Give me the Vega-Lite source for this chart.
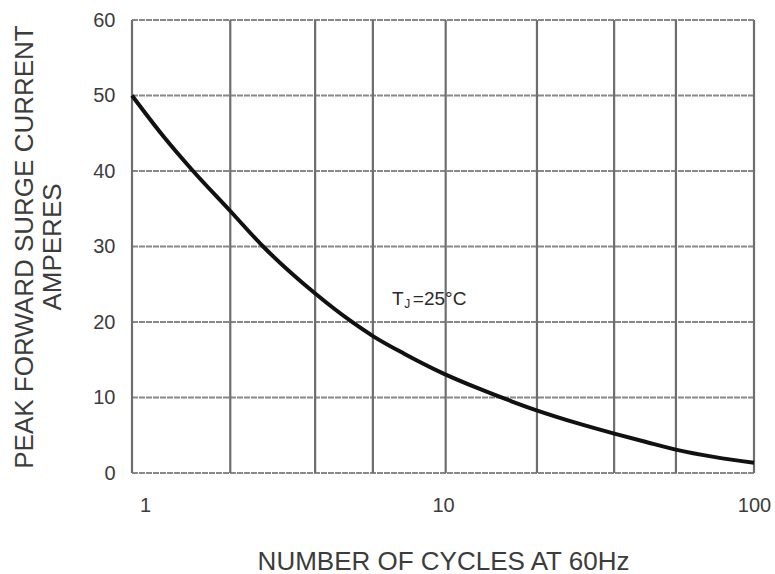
{
  "$schema": "https://vega.github.io/schema/vega-lite/v6.json",
  "description": "Peak forward surge current vs number of cycles at 60Hz",
  "autosize": {"type": "none"},
  "width": 622,
  "height": 453,
  "padding": {"left": 132, "top": 20, "right": 21, "bottom": 101},
  "background": "white",
  "config": {
    "view": {"stroke": null},
    "font": "Liberation Sans",
    "axis": {
      "domain": false,
      "ticks": false,
      "grid": false,
      "labelFontSize": 20,
      "labelColor": "#3c3c3c",
      "titleFontSize": 26,
      "titleFontWeight": "normal",
      "titleColor": "#3c3c3c"
    }
  },
  "datasets": {
    "curve": [
      {"cycles": 1, "current": 50.0},
      {"cycles": 1.25, "current": 44.8},
      {"cycles": 1.556, "current": 40.2},
      {"cycles": 2.07, "current": 34.7},
      {"cycles": 2.64, "current": 30.0},
      {"cycles": 3.9, "current": 23.7},
      {"cycles": 5.02, "current": 20.2},
      {"cycles": 5.97, "current": 18.1},
      {"cycles": 7.5, "current": 15.8},
      {"cycles": 10, "current": 13.2},
      {"cycles": 13, "current": 11.2},
      {"cycles": 16.6, "current": 9.5},
      {"cycles": 20, "current": 8.3},
      {"cycles": 27, "current": 6.6},
      {"cycles": 35.3, "current": 5.25},
      {"cycles": 45, "current": 4.1},
      {"cycles": 56, "current": 3.1},
      {"cycles": 75, "current": 2.1},
      {"cycles": 100, "current": 1.35}
    ],
    "vgrid": [
      {"cycles": 1}, {"cycles": 2.07}, {"cycles": 3.88}, {"cycles": 5.95},
      {"cycles": 10.2}, {"cycles": 20.05}, {"cycles": 35.5}, {"cycles": 56.1},
      {"cycles": 100}
    ],
    "hgrid": [
      {"current": 0}, {"current": 10}, {"current": 20}, {"current": 30},
      {"current": 40}, {"current": 50}, {"current": 60}
    ],
    "note": [
      {"cycles": 6.86, "current": 22.25, "text": "T"},
      {"cycles": 8.0, "current": 22.25, "text": "=25°C"}
    ],
    "noteSub": [
      {"cycles": 7.5, "current": 21.8, "text": "J"}
    ]
  },
  "layer": [
    {
      "data": {"name": "hgrid"},
      "mark": {"type": "rule", "color": "#888888", "strokeWidth": 2, "strokeDash": [6, 1]},
      "encoding": {
        "y": {"field": "current", "type": "quantitative", "scale": {"domain": [0, 60], "nice": false, "zero": false}}
      }
    },
    {
      "data": {"name": "vgrid"},
      "mark": {"type": "rule", "color": "#6e6e6e", "strokeWidth": 2.2},
      "encoding": {
        "x": {"field": "cycles", "type": "quantitative", "scale": {"type": "log", "domain": [1, 100], "nice": false}}
      }
    },
    {
      "data": {"name": "curve"},
      "mark": {"type": "line", "color": "#111111", "strokeWidth": 4, "interpolate": "monotone"},
      "encoding": {
        "x": {
          "field": "cycles",
          "type": "quantitative",
          "scale": {"type": "log", "domain": [1, 100], "nice": false},
          "axis": {
            "values": [1, 10, 100],
            "format": ".0f",
            "labelFlush": false,
            "labelBaseline": "middle",
            "labelPadding": 32,
            "labelOffset": {"condition": {"test": "datum.value == 1", "value": 13}, "value": 0},
            "title": "NUMBER OF CYCLES AT 60Hz",
            "titleBaseline": "alphabetic",
            "titleY": 96
          }
        },
        "y": {
          "field": "current",
          "type": "quantitative",
          "scale": {"domain": [0, 60], "nice": false, "zero": false},
          "axis": {
            "values": [0, 10, 20, 30, 40, 50, 60],
            "labelPadding": 17,
            "title": ["PEAK FORWARD SURGE CURRENT", "AMPERES"],
            "titleAngle": 270,
            "titleAlign": "center",
            "titleBaseline": "middle",
            "titleLineHeight": 28,
            "titleX": -108,
            "titleY": 226.5
          }
        }
      }
    },
    {
      "data": {"name": "note"},
      "mark": {"type": "text", "align": "left", "baseline": "alphabetic", "fontSize": 19, "color": "#2a2a2a"},
      "encoding": {
        "x": {"field": "cycles", "type": "quantitative"},
        "y": {"field": "current", "type": "quantitative"},
        "text": {"field": "text"}
      }
    },
    {
      "data": {"name": "noteSub"},
      "mark": {"type": "text", "align": "left", "baseline": "alphabetic", "fontSize": 12, "color": "#2a2a2a"},
      "encoding": {
        "x": {"field": "cycles", "type": "quantitative"},
        "y": {"field": "current", "type": "quantitative"},
        "text": {"field": "text"}
      }
    }
  ]
}
